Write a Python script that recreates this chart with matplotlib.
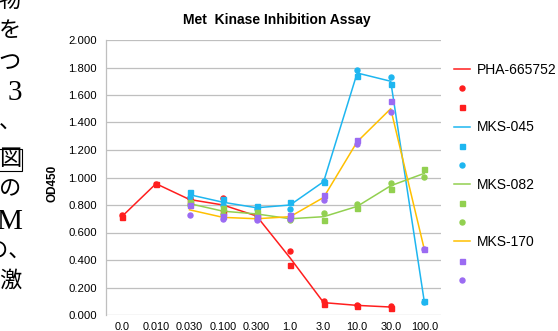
import numpy as np
import matplotlib
matplotlib.use("Agg")
import matplotlib.pyplot as plt
from matplotlib.lines import Line2D

plt.rcParams['font.family'] = ['Liberation Sans', 'DejaVu Sans']

# concentrations (category axis)
conc = ["0.0", "0.010", "0.030", "0.100", "0.300", "1.0", "3.0", "10.0", "30.0", "100.0"]
nan = np.nan

# PHA-665752: mean line + two replicates (circle, square)
pha_mean = [0.72, 0.955, 0.84, 0.80, 0.72, 0.415, 0.09, 0.07, 0.058, nan]
pha_ci = [0.725, 0.955, 0.85, 0.85, 0.73, 0.467, 0.10, 0.072, 0.066, nan]
pha_sq = [0.71, 0.95, 0.83, 0.75, 0.71, 0.364, 0.08, 0.068, 0.05, nan]

# MKS-045: mean line + replicates (square, circle)
m045_mean = [nan, nan, 0.875, 0.82, 0.78, 0.80, 0.97, 1.76, 1.70, 0.10]
m045_sq = [nan, nan, 0.895, 0.845, 0.79, 0.825, 0.97, 1.74, 1.68, 0.10]
m045_ci = [nan, nan, 0.86, 0.80, 0.77, 0.77, 0.975, 1.785, 1.73, 0.095]

# MKS-082
m082_mean = [nan, nan, 0.81, 0.755, 0.735, 0.70, 0.715, 0.79, 0.94, 1.03]
m082_sq = [nan, nan, 0.82, 0.775, 0.75, 0.715, 0.69, 0.78, 0.92, 1.06]
m082_ci = [nan, nan, 0.80, 0.735, 0.72, 0.69, 0.74, 0.805, 0.96, 1.005]

# MKS-170
m170_mean = [nan, nan, 0.765, 0.71, 0.70, 0.715, 0.855, 1.26, 1.50, 0.48]
m170_sq = [nan, nan, 0.80, 0.72, 0.71, 0.73, 0.87, 1.275, 1.555, 0.48]
m170_ci = [nan, nan, 0.73, 0.70, 0.69, 0.70, 0.84, 1.245, 1.48, 0.48]

# cropped body text on the left edge of the screenshot
side_text = ["物", "を", "つ", "3", "、", "図", "の", "M", "の、", "激"]
side_y = [2, 32, 64, 93, 124, 160, 191, 222, 253, 281]

RED = "#FF1E1E"
BLUE = "#1EB6F0"
GREEN = "#92D050"
ORANGE = "#FFC000"
PURPLE = "#9B6BF2"

fig = plt.figure(figsize=(5.58, 3.31), dpi=100)
W, H = 558, 331
ax = fig.add_axes([105.7 / W, 1 - 315 / H, (441 - 105.7) / W, (315 - 40) / H])

x = np.arange(len(conc))
lw = 1.1
ms = 3.6

series = [
    (pha_mean, RED, RED, [("o", pha_ci), ("s", pha_sq)], "PHA-665752"),
    (m045_mean, BLUE, BLUE, [("s", m045_sq), ("o", m045_ci)], "MKS-045"),
    (m082_mean, GREEN, GREEN, [("s", m082_sq), ("o", m082_ci)], "MKS-082"),
    (m170_mean, ORANGE, PURPLE, [("s", m170_sq), ("o", m170_ci)], "MKS-170"),
]

handles, labels = [], []
for mean, lc, mc, reps, name in series:
    ax.plot(x, mean, color=lc, lw=lw, zorder=3)
    handles.append(Line2D([], [], color=lc, lw=lw))
    labels.append(name)
    for mk, vals in reps:
        ax.plot(x, vals, ls="none", marker=mk, ms=ms, color=mc, mec=mc, zorder=4)
        handles.append(Line2D([], [], ls="none", marker=mk, ms=ms, color=mc, mec=mc))
        labels.append("")

ax.set_xlim(-0.5, len(conc) - 0.5)
ax.set_ylim(0, 2.0)
yt = np.arange(0, 2.01, 0.2)
ax.set_yticks(yt)
ax.set_yticklabels([f"{v:.3f}" for v in yt], fontsize=8.2)
ax.set_xticks(x)
ax.set_xticklabels(conc, fontsize=7.8)
ax.tick_params(axis="y", length=0, pad=6.5)
ax.tick_params(axis="x", length=0, pad=5)
ax.yaxis.grid(True, color="#BFBFBF", lw=0.9)
ax.set_axisbelow(True)
for s in ["top", "right", "bottom"]:
    ax.spines[s].set_visible(False)
ax.spines["left"].set_color("#BFBFBF")
ax.spines["left"].set_linewidth(0.9)

fig.text(277 / W, 1 - 20 / H, "Met  Kinase Inhibition Assay", ha="center", va="center",
         fontsize=10, fontweight="bold")
fig.text(53 / W, 1 - 183 / H, "OD450", rotation=90, ha="center", va="center",
         fontsize=8.5, fontweight="bold")

fig.legend(handles, labels, loc="upper left", bbox_to_anchor=(454 / W, 1 - 63 / H),
           frameon=False, fontsize=10, borderpad=0, borderaxespad=0,
           handlelength=1.15, handletextpad=0.48, labelspacing=0.37, numpoints=1)

serif_cjk = ["Liberation Serif", "Noto Sans CJK JP"]
for t, yy in zip(side_text, side_y):
    kw = dict(va="center", family=serif_cjk, fontsize=16)
    xx, ha = 21, "right"
    if t in ("3", "M"):
        kw["fontsize"] = 21
        xx = 22
    if t == "、":
        xx, ha = -1, "left"
    if t == "の、":
        xx, ha = -14, "left"
    if t == "図":
        kw["bbox"] = dict(boxstyle="square,pad=0.05", fc="none", ec="black", lw=0.8)
    fig.text(xx / W, 1 - yy / H, t, ha=ha, **kw)

fig.savefig("out.png", dpi=100)
